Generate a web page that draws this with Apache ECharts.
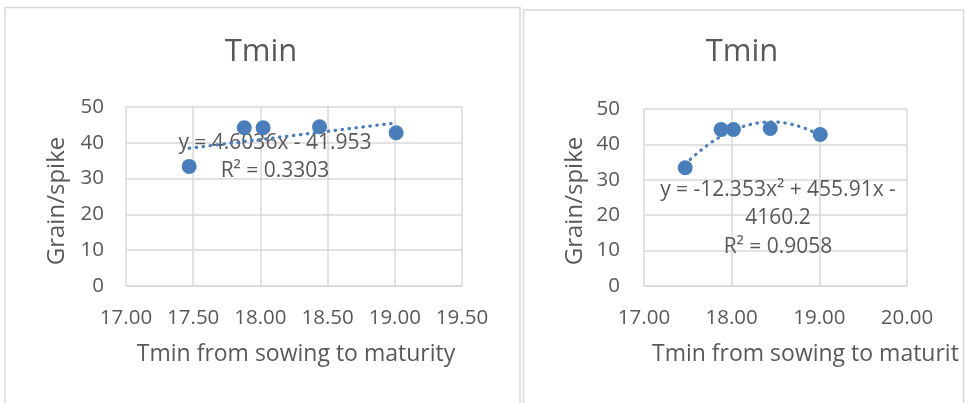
<!DOCTYPE html>
<html>
<head>
<meta charset="utf-8">
<script src="https://cdn.jsdelivr.net/npm/echarts@6/dist/echarts.min.js"></script>
<style>
  html, body { margin: 0; padding: 0; background: #ffffff; }
  #chart { width: 967px; height: 403px; }
</style>
</head>
<body>
<div id="chart"></div>
<script>
// Mean minimum temperature from sowing to maturity and grains per spike
const tminSowingToMaturity = [17.47, 17.88, 18.02, 18.44, 19.01];
const grainPerSpike = [33.4, 44.2, 44.2, 44.5, 42.8];

// Fitted trendlines (coefficients as reported)
const linearCoef = [4.6036, -41.953];          // y = a x + b
const linearR2 = '0.3303';
const quadCoef = [-12.353, 455.91, -4160.2];   // y = a x² + b x + c
const quadR2 = '0.9058';

// Axis ranges
const leftXRange = [17, 19.5, 0.5];
const rightXRange = [17, 20, 1];
const yRange = [0, 50, 10];

const chartTitle = 'Tmin';
const xName = 'Tmin from sowing to maturity';
const yName = 'Grain/spike';

const BLUE = '#4A7EBB';
const TEXT = '#595959';
const GRID = '#D9D9D9';
const FONT = '"Open Sans", sans-serif';

function curve(fn) {
  const lo = Math.min(...tminSowingToMaturity);
  const hi = Math.max(...tminSowingToMaturity);
  const pts = [];
  const n = 60;
  for (let i = 0; i <= n; i++) {
    const x = lo + (hi - lo) * i / n;
    pts.push([x, fn(x)]);
  }
  return pts;
}
const linearLine = curve(x => linearCoef[0] * x + linearCoef[1]);
const quadLine = curve(x => quadCoef[0] * x * x + quadCoef[1] * x + quadCoef[2]);

const sign = v => (v < 0 ? '- ' : '+ ') + Math.abs(v);
const linearLabel = 'y = ' + linearCoef[0] + 'x ' + sign(linearCoef[1]) + '\nR² = ' + linearR2;
const quadLabel = 'y = ' + quadCoef[0] + 'x² ' + sign(quadCoef[1]) + 'x ' +
  (quadCoef[2] < 0 ? '-' : '+') + '\n' + Math.abs(quadCoef[2]) + '\nR² = ' + quadR2;

const points = tminSowingToMaturity.map((x, i) => [x, grainPerSpike[i]]);

function xAxisFor(idx, range) {
  return {
    type: 'value', gridIndex: idx,
    min: range[0], max: range[1], interval: range[2],
    axisLine: { show: true, onZero: false, lineStyle: { color: GRID, width: 1.5 } },
    axisTick: { show: false },
    splitLine: { show: true, showMinLine: true, showMaxLine: true, lineStyle: { color: GRID, width: 1.5 } },
    axisLabel: { color: TEXT, fontFamily: FONT, fontSize: 20.5, margin: 22,
      formatter: v => v.toFixed(2), showMinLabel: true, showMaxLabel: true }
  };
}
function yAxisFor(idx, margin) {
  return {
    type: 'value', gridIndex: idx,
    min: yRange[0], max: yRange[1], interval: yRange[2],
    axisLine: { show: false },
    axisTick: { show: false },
    splitLine: { show: true, showMinLine: true, showMaxLine: true, lineStyle: { color: GRID, width: 1.5 } },
    axisLabel: { color: TEXT, fontFamily: FONT, fontSize: 20.5, margin: margin }
  };
}

const dotted = { color: BLUE, width: 3.2, type: [0.5, 6.5], cap: 'round' };

function txt(text, x, y, size, extra) {
  return Object.assign({
    type: 'text', x: x, y: y, z: 1,
    style: { text: text, fill: TEXT, font: size + 'px ' + FONT, align: 'center', verticalAlign: 'middle' }
  }, extra || {});
}

const option = {
  backgroundColor: '#ffffff',
  animation: false,
  grid: [
    { left: 126, right: 505, top: 107, bottom: 117 },
    { left: 644, right: 60, top: 109, bottom: 117 }
  ],
  xAxis: [xAxisFor(0, leftXRange), xAxisFor(1, rightXRange)],
  yAxis: [yAxisFor(0, 22), yAxisFor(1, 24)],
  series: [
    { type: 'line', xAxisIndex: 0, yAxisIndex: 0, data: linearLine, showSymbol: false,
      lineStyle: dotted, z: 2 },
    { type: 'scatter', xAxisIndex: 0, yAxisIndex: 0, data: points, symbolSize: 15,
      itemStyle: { color: BLUE, opacity: 1 }, z: 3 },
    { type: 'line', xAxisIndex: 1, yAxisIndex: 1, data: quadLine, showSymbol: false,
      lineStyle: dotted, z: 2 },
    { type: 'scatter', xAxisIndex: 1, yAxisIndex: 1, data: points, symbolSize: 15,
      itemStyle: { color: BLUE, opacity: 1 }, z: 3 }
  ],
  graphic: [
    // chart frames
    { type: 'rect', shape: { x: 5, y: 7.5, width: 515, height: 430 }, z: -1,
      style: { fill: 'none', stroke: GRID, lineWidth: 1.5 } },
    { type: 'rect', shape: { x: 523.5, y: 10, width: 440, height: 430 }, z: -1,
      style: { fill: 'none', stroke: GRID, lineWidth: 1.5 } },
    // titles
    txt(chartTitle, 261, 52, 31),
    txt(chartTitle, 742, 52, 31),
    // axis names
    txt(yName, 57, 201, 24, { rotation: Math.PI / 2 }),
    txt(yName, 575, 201, 24, { rotation: Math.PI / 2 }),
    txt(xName, 296, 354, 23),
    { type: 'text', x: 652, y: 354, z: 1,
      style: { text: xName, fill: TEXT, font: '23px ' + FONT, align: 'left', verticalAlign: 'middle',
        width: 311, overflow: 'truncate', ellipsis: '' } },
    // trendline equations
    { type: 'text', x: 275, y: 157, z: 1,
      style: { text: linearLabel, fill: TEXT, font: '21px ' + FONT, align: 'center',
        verticalAlign: 'middle', lineHeight: 28.5 } },
    { type: 'text', x: 778, y: 218.5, z: 1,
      style: { text: quadLabel, fill: TEXT, font: '21px ' + FONT, align: 'center',
        verticalAlign: 'middle', lineHeight: 28.5 } }
  ]
};

const chart = echarts.init(document.getElementById('chart'), null, { renderer: 'canvas' });
chart.setOption(option);
</script>
</body>
</html>
